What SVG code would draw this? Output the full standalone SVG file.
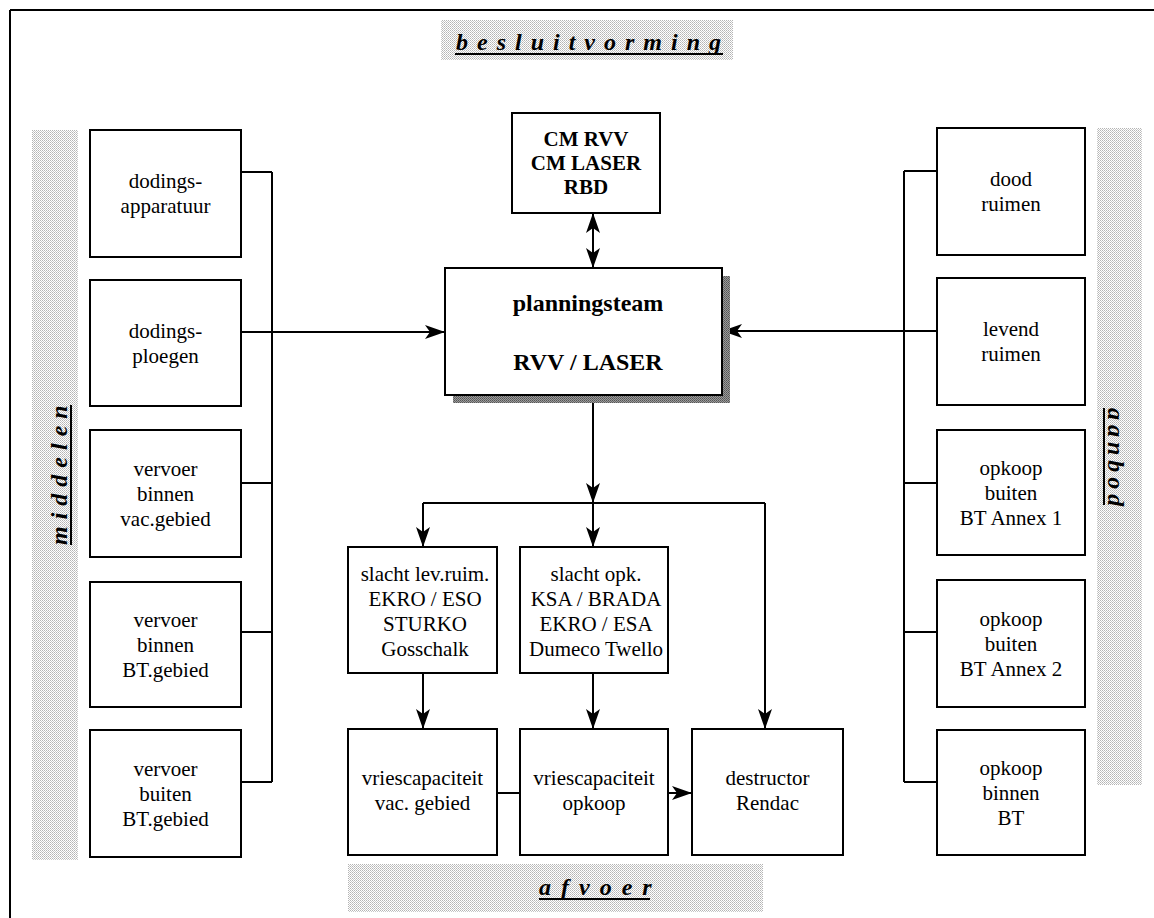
<svg xmlns="http://www.w3.org/2000/svg" width="1154" height="918" viewBox="0 0 1154 918">
<style>
.box{fill:#fff;stroke:#000;stroke-width:2}
.ln{fill:none;stroke:#000;stroke-width:2}
.t{font-family:'Liberation Serif','DejaVu Serif','Times New Roman',serif;font-size:21px;text-anchor:middle;fill:#000}
.b{font-family:'Liberation Serif','DejaVu Serif','Times New Roman',serif;font-weight:bold;text-anchor:middle;fill:#000}
.h{font-family:'Liberation Serif','DejaVu Serif','Times New Roman',serif;font-weight:bold;font-style:italic;font-size:24px;fill:#000}
</style>
<defs>
<pattern id="stip" width="2" height="2" patternUnits="userSpaceOnUse">
<rect width="2" height="2" fill="#fff"/>
<rect width="1" height="1" fill="#b4b4b4"/>
<rect x="1" y="1" width="1" height="1" fill="#c8c8c8"/>
</pattern>
<pattern id="shad" width="2" height="2" patternUnits="userSpaceOnUse">
<rect width="2" height="2" fill="#9a9a9a"/>
<rect width="1" height="1" fill="#555"/>
<rect x="1" y="1" width="1" height="1" fill="#666"/>
</pattern>
<marker id="ah" viewBox="0 0 20 14" markerWidth="20" markerHeight="14" refX="20" refY="7" orient="auto-start-reverse" markerUnits="userSpaceOnUse">
<path d="M0,0 L20,7 L0,14 L5,7 Z" fill="#000"/>
</marker>
</defs>

<g id="frame">
<line x1="10" y1="10" x2="1154" y2="10" stroke="#000" stroke-width="2"/>
<line x1="10" y1="10" x2="10" y2="918" stroke="#000" stroke-width="2"/>
</g>

<g id="label-besluitvorming">
<rect x="441" y="20" width="292" height="40" fill="url(#stip)"/>
<text class="h" x="456" y="50" letter-spacing="9">besluitvorming</text>
<line x1="455" y1="54" x2="723" y2="54" stroke="#000" stroke-width="2"/>
</g>
<g id="label-middelen">
<rect x="32" y="130" width="46" height="730" fill="url(#stip)"/>
<text class="h" transform="translate(67,545) rotate(-90)" letter-spacing="7">middelen</text>
<line x1="71" y1="405" x2="71" y2="545" stroke="#000" stroke-width="2"/>
</g>
<g id="label-aanbod">
<rect x="1097" y="128" width="45" height="657" fill="url(#stip)"/>
<text class="h" transform="translate(1108,408) rotate(90)" letter-spacing="5">aanbod</text>
<line x1="1104" y1="408" x2="1104" y2="505" stroke="#000" stroke-width="2"/>
</g>
<g id="label-afvoer">
<rect x="348" y="864" width="415" height="48" fill="url(#stip)"/>
<text class="h" x="539" y="895" letter-spacing="10">afvoer</text>
<line x1="539" y1="899" x2="650" y2="899" stroke="#000" stroke-width="2"/>
</g>

<g id="connectors">
<path class="ln" d="M241,172 H272 M241,483 H272 M241,632 H272 M241,782 H272 M272,172 V782"/>
<line class="ln" x1="241" y1="332" x2="445" y2="332" marker-end="url(#ah)"/>
<path class="ln" d="M937,171 H904 M937,483 H904 M937,632 H904 M937,782 H904 M904,171 V782"/>
<line class="ln" x1="937" y1="331" x2="722" y2="331" marker-end="url(#ah)"/>
<line class="ln" x1="593" y1="213" x2="593" y2="268" marker-start="url(#ah)" marker-end="url(#ah)"/>
<line class="ln" x1="593" y1="395" x2="593" y2="503" marker-end="url(#ah)"/>
<path class="ln" d="M423,503 H765"/>
<line class="ln" x1="423" y1="503" x2="423" y2="547" marker-end="url(#ah)"/>
<line class="ln" x1="593" y1="503" x2="593" y2="547" marker-end="url(#ah)"/>
<line class="ln" x1="765" y1="503" x2="765" y2="729" marker-end="url(#ah)"/>
<line class="ln" x1="423" y1="673" x2="423" y2="729" marker-end="url(#ah)"/>
<line class="ln" x1="593" y1="673" x2="593" y2="729" marker-end="url(#ah)"/>
<line class="ln" x1="497" y1="793" x2="520" y2="793"/>
<line class="ln" x1="668" y1="793" x2="692" y2="793" marker-end="url(#ah)"/>
</g>

<g id="n-cm">
<rect class="box" x="512" y="113" width="148" height="100"/>
<text class="b" font-size="21" x="586" y="146">CM RVV</text>
<text class="b" font-size="21" x="586" y="170">CM LASER</text>
<text class="b" font-size="21" x="586" y="194">RBD</text>
</g>
<g id="n-planning">
<rect x="453" y="276" width="277" height="127" fill="url(#shad)"/>
<rect class="box" x="445" y="268" width="277" height="127"/>
<text class="b" font-size="24" x="588" y="311">planningsteam</text>
<text class="b" font-size="24" x="588" y="370">RVV / LASER</text>
</g>

<g id="n-l1">
<rect class="box" x="90" y="130" width="151" height="127"/>
<text class="t" x="165.5" y="188">dodings-</text>
<text class="t" x="165.5" y="213">apparatuur</text>
</g>
<g id="n-l2">
<rect class="box" x="90" y="280" width="151" height="126"/>
<text class="t" x="165.5" y="338">dodings-</text>
<text class="t" x="165.5" y="363">ploegen</text>
</g>
<g id="n-l3">
<rect class="box" x="90" y="430" width="151" height="127"/>
<text class="t" x="165.5" y="476">vervoer</text>
<text class="t" x="165.5" y="501">binnen</text>
<text class="t" x="165.5" y="526">vac.gebied</text>
</g>
<g id="n-l4">
<rect class="box" x="90" y="582" width="151" height="125"/>
<text class="t" x="165.5" y="627">vervoer</text>
<text class="t" x="165.5" y="652">binnen</text>
<text class="t" x="165.5" y="677">BT.gebied</text>
</g>
<g id="n-l5">
<rect class="box" x="90" y="730" width="151" height="127"/>
<text class="t" x="165.5" y="776">vervoer</text>
<text class="t" x="165.5" y="801">buiten</text>
<text class="t" x="165.5" y="826">BT.gebied</text>
</g>

<g id="n-r1">
<rect class="box" x="937" y="128" width="148" height="127"/>
<text class="t" x="1011" y="186">dood</text>
<text class="t" x="1011" y="211">ruimen</text>
</g>
<g id="n-r2">
<rect class="box" x="937" y="278" width="148" height="127"/>
<text class="t" x="1011" y="336">levend</text>
<text class="t" x="1011" y="361">ruimen</text>
</g>
<g id="n-r3">
<rect class="box" x="937" y="430" width="148" height="125"/>
<text class="t" x="1011" y="475">opkoop</text>
<text class="t" x="1011" y="500">buiten</text>
<text class="t" x="1011" y="525">BT Annex 1</text>
</g>
<g id="n-r4">
<rect class="box" x="937" y="580" width="148" height="127"/>
<text class="t" x="1011" y="626">opkoop</text>
<text class="t" x="1011" y="651">buiten</text>
<text class="t" x="1011" y="676">BT Annex 2</text>
</g>
<g id="n-r5">
<rect class="box" x="937" y="730" width="148" height="125"/>
<text class="t" x="1011" y="775">opkoop</text>
<text class="t" x="1011" y="800">binnen</text>
<text class="t" x="1011" y="825">BT</text>
</g>

<g id="n-slacht-lev">
<rect class="box" x="348" y="547" width="149" height="126"/>
<text class="t" x="425" y="581">slacht lev.ruim.</text>
<text class="t" x="425" y="606">EKRO / ESO</text>
<text class="t" x="425" y="631">STURKO</text>
<text class="t" x="425" y="656">Gosschalk</text>
</g>
<g id="n-slacht-opk">
<rect class="box" x="520" y="547" width="148" height="126"/>
<text class="t" x="596" y="581">slacht opk.</text>
<text class="t" x="596" y="606">KSA / BRADA</text>
<text class="t" x="596" y="631">EKRO / ESA</text>
<text class="t" x="596" y="656">Dumeco Twello</text>
</g>
<g id="n-vries-vac">
<rect class="box" x="348" y="729" width="149" height="126"/>
<text class="t" x="422.5" y="785">vriescapaciteit</text>
<text class="t" x="422.5" y="810">vac. gebied</text>
</g>
<g id="n-vries-opk">
<rect class="box" x="520" y="729" width="148" height="126"/>
<text class="t" x="594" y="785">vriescapaciteit</text>
<text class="t" x="594" y="810">opkoop</text>
</g>
<g id="n-destructor">
<rect class="box" x="692" y="729" width="151" height="126"/>
<text class="t" x="767.5" y="785">destructor</text>
<text class="t" x="767.5" y="810">Rendac</text>
</g>
</svg>
